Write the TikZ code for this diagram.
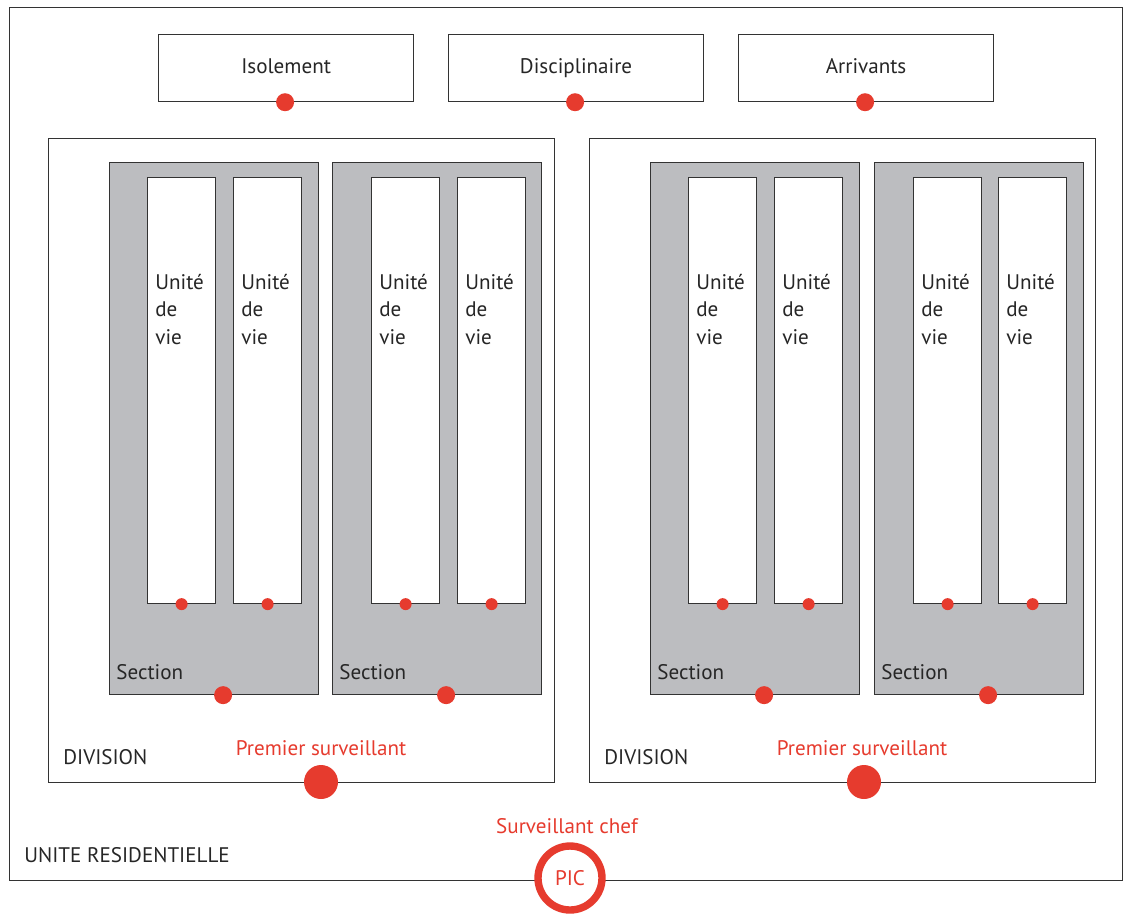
\documentclass[tikz,border=0pt]{standalone}
\usepackage{fontspec}
\setmainfont{PT Sans}
\usepackage{xcolor}
\usetikzlibrary{positioning}
\definecolor{secgray}{HTML}{BCBDC0}
\definecolor{psred}{HTML}{E63B2E}

\begin{document}
\begin{tikzpicture}[%
  x=0.02cm, y=-0.02cm,
  every node/.style={font=\fontsize{12}{15.6}\selectfont, text=black!85},
  wall/.style={draw=black!80, line width=0.7pt, inner sep=0pt, anchor=north west},
  room/.style={wall, fill=white},
  secbox/.style={wall, fill=secgray, minimum width=4.18cm, minimum height=10.64cm},
  divbox/.style={wall, minimum width=10.12cm, minimum height=12.88cm},
  topbox/.style={room, minimum width=5.1cm, minimum height=1.34cm, text height=9pt, text depth=3pt},
  unitbox/.style={room, minimum width=1.36cm, minimum height=8.52cm},
  lbl/.style={anchor=base west, inner sep=0pt},
  redlbl/.style={anchor=base, inner sep=0pt, text=psred},
  dot/.style={circle, fill=psred, inner sep=0pt, minimum size=#1},
  dot/.default=0.24cm
]
\useasboundingbox (0,0) rectangle (1124,913);

% Unite residentielle
\node[wall, minimum width=22.26cm, minimum height=17.46cm] (ur) at (9,7) {};
\node[lbl] (urlbl) at (24,862) {UNITE RESIDENTIELLE};

% quartiers du haut
\node[topbox] (iso) at (158,34) {Isolement};
\node[topbox] (disc) at (448,34) {Disciplinaire};
\node[topbox] (arr) at (738,34) {Arrivants};
\node[dot=0.36cm] (isodot) at ([xshift=-0.02cm]iso.south) {};
\node[dot=0.36cm] (discdot) at ([xshift=-0.02cm]disc.south) {};
\node[dot=0.36cm] (arrdot) at ([xshift=-0.02cm]arr.south) {};

% Divisions
\node[divbox] (div1) at (48,138) {};
\node[divbox] (div2) at (589,138) {};
\node[lbl] (div1lbl) at (63,764) {DIVISION};
\node[lbl] (div2lbl) at (604,764) {DIVISION};

% Sections
\foreach \n/\x in {1/109, 2/332, 3/650, 4/874} {
  \node[secbox] (sec\n) at (\x,162) {};
  \node[lbl] (sec\n lbl) at (\x+7,679) {Section};
  \node[dot=0.36cm] (sec\n dot) at ([xshift=0.18cm]sec\n.south) {};
}

% Unites de vie
\foreach \n/\x in {1/147, 2/233, 3/371, 4/457, 5/688, 6/774, 7/913, 8/998} {
  \node[unitbox] (u\n) at (\x,177) {};
  \node[anchor=north west, inner sep=0pt, align=left] (u\n lbl) at (\x+8,274) {Unité\\de\\vie};
  \node[dot] (u\n dot) at (u\n.south) {};
}

% Premiers surveillants
\node[dot=0.68cm] (ps1) at (321,782) {};
\node[dot=0.68cm] (ps2) at (864,782) {};
\node[redlbl] (ps1lbl) at (321,755) {Premier surveillant};
\node[redlbl] (ps2lbl) at (862,755) {Premier surveillant};

% Surveillant chef
\node[redlbl] (chef) at (567,833) {Surveillant chef};
\node[circle, draw=psred, line width=4.2pt, fill=white, minimum size=1.28cm, inner sep=0pt, text=psred] (pic) at (570,878) {PIC};

\end{tikzpicture}
\end{document}
